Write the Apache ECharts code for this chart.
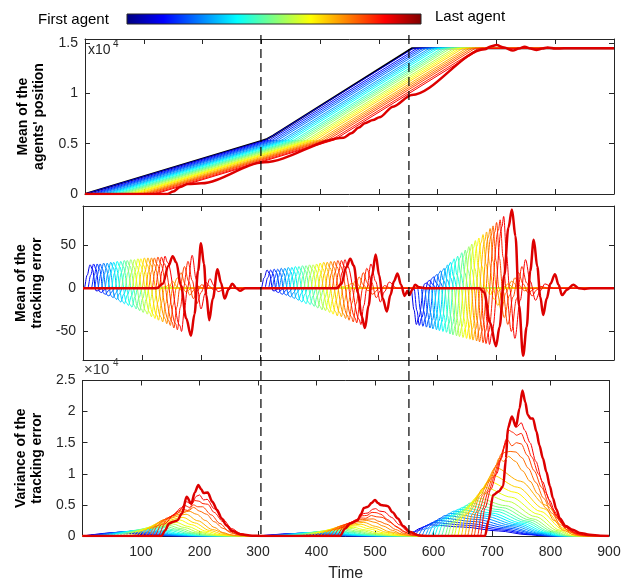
<!DOCTYPE html>
<html><head><meta charset="utf-8">
<script src="https://cdn.jsdelivr.net/npm/echarts@6/dist/echarts.min.js"></script>
<style>html,body{margin:0;padding:0;background:#fff}#c{width:623px;height:584px}</style>
</head><body><div id="c"></div>
<script>
// ---------------- data ----------------
const timeTicks = [0,100,200,300,400,500,600,700,800,900];
const positionTicks = [0,5000,10000,15000];
const errorTicks = [-50,0,50];
const varianceTicks = [0,5000,10000,15000,20000,25000];
const switchTimes = [305, 558];

// Top panel: reference (leader) position
const positionReference = [[0,0],[300,5280],[310,5470],[320,5800],[556,14480],[900,14480]];
// Top panel: thin agents, first -> before last
const positionAgents = [
 [[0,0],[3,0],[308,5370],[559,14480],[900,14480]],
 [[0,0],[9,0],[314,5370],[565,14480],[900,14480]],
 [[0,0],[14,0],[319,5370],[570,14480],[900,14480]],
 [[0,0],[19,0],[324,5370],[575,14480],[900,14480]],
 [[0,0],[24,0],[329,5370],[580,14480],[900,14480]],
 [[0,0],[30,0],[335,5370],[586,14480],[900,14480]],
 [[0,0],[35,0],[340,5370],[591,14480],[900,14480]],
 [[0,0],[40,0],[345,5370],[596,14480],[900,14480]],
 [[0,0],[45,0],[350,5370],[601,14480],[900,14480]],
 [[0,0],[51,0],[356,5370],[607,14480],[900,14480]],
 [[0,0],[56,0],[361,5370],[612,14480],[900,14480]],
 [[0,0],[61,0],[366,5370],[617,14480],[900,14480]],
 [[0,0],[66,0],[371,5370],[622,14480],[900,14480]],
 [[0,0],[72,0],[377,5370],[628,14480],[900,14480]],
 [[0,0],[77,0],[382,5370],[633,14480],[900,14480]],
 [[0,0],[82,0],[387,5370],[638,14480],[900,14480]],
 [[0,0],[87,0],[392,5370],[643,14480],[900,14480]],
 [[0,0],[93,0],[398,5370],[649,14480],[900,14480]],
 [[0,0],[98,0],[403,5370],[654,14480],[900,14480]],
 [[0,0],[103,0],[408,5370],[659,14480],[900,14480]],
 [[0,0],[108,0],[413,5370],[664,14480],[900,14480]],
 [[0,0],[114,0],[419,5370],[670,14480],[900,14480]],
 [[0,0],[119,0],[424,5370],[675,14480],[900,14480]]
];
// Top panel: last agent (thick)
const positionLast = [[0,0],[140,0],[150,250],[162,700],[175,990],[198,1060],[305,3150],[440,5600],[453,6030],[466,6600],[476,7030],[490,7350],[501,7620],[524,8680],[556,9840],[680,14380],[690,14650],[700,14800],[713,14550],[728,14250],[738,14450],[748,14640],[758,14450],[768,14310],[778,14450],[787,14550],[800,14450],[815,14480],[900,14480]];

// Middle panel: mean tracking error, thin agents
const errorAgents = [
 [[0,0],[2,0],[7,15],[12,27],[16,22],[22,-3],[25,-3],[30,-1],[35,0],[302,0],[307,12],[312,21],[316,17],[322,-3],[325,-3],[330,-1],[335,0],[556,0],[561,-25],[565,-42],[569,-34],[579,5],[582,6],[587,3],[593,0],[900,0]],
 [[0,0],[8,0],[13,15],[18,28],[22,22],[28,-4],[31,-5],[36,-2],[41,0],[308,0],[313,12],[318,21],[322,17],[328,-4],[331,-5],[336,-2],[341,0],[561,0],[566,-26],[570,-43],[574,-34],[585,8],[588,9],[593,4],[599,0],[900,0]],
 [[0,0],[14,0],[19,15],[24,28],[28,22],[35,-6],[38,-7],[43,-3],[48,0],[314,0],[319,12],[324,22],[328,18],[335,-6],[338,-7],[343,-3],[348,0],[567,0],[572,-26],[576,-44],[580,-35],[591,11],[594,13],[599,6],[605,0],[900,0]],
 [[0,0],[19,0],[24,15],[29,28],[33,22],[41,-8],[44,-9],[49,-4],[54,0],[320,0],[325,12],[330,22],[334,18],[342,-7],[345,-8],[350,-4],[355,0],[573,0],[578,-27],[582,-45],[586,-36],[597,14],[600,16],[605,7],[611,0],[900,0]],
 [[0,0],[25,0],[30,16],[35,29],[39,23],[48,-9],[51,-11],[56,-5],[61,0],[326,0],[331,13],[336,23],[340,18],[349,-9],[352,-10],[357,-5],[362,0],[579,0],[584,-28],[588,-46],[592,-37],[603,17],[606,20],[611,9],[617,0],[900,0]],
 [[0,0],[31,0],[36,16],[41,29],[45,23],[54,-11],[57,-13],[62,-6],[67,0],[332,0],[337,13],[342,23],[346,18],[355,-10],[358,-12],[363,-5],[368,0],[584,0],[589,-28],[593,-47],[597,-38],[609,20],[612,23],[617,10],[623,0],[900,0]],
 [[0,0],[37,0],[42,17],[47,30],[51,24],[61,-14],[64,-16],[69,-7],[74,0],[338,0],[343,13],[348,24],[352,19],[362,-12],[365,-14],[370,-6],[375,0],[590,0],[595,-29],[599,-48],[603,-38],[615,23],[618,27],[623,12],[629,0],[900,0]],
 [[0,0],[42,0],[47,17],[52,30],[56,24],[67,-15],[70,-18],[75,-8],[80,0],[344,0],[349,13],[354,24],[358,19],[368,-14],[371,-16],[376,-7],[381,0],[595,0],[600,-29],[604,-49],[608,-39],[620,26],[623,30],[628,14],[634,0],[900,0]],
 [[0,0],[48,0],[53,17],[58,31],[62,25],[74,-17],[77,-20],[82,-9],[87,0],[350,0],[355,14],[360,25],[364,20],[375,-15],[378,-18],[383,-8],[388,0],[601,0],[606,-30],[610,-50],[614,-40],[626,29],[629,34],[634,15],[640,0],[900,0]],
 [[0,0],[54,0],[59,17],[64,31],[68,25],[80,-19],[83,-22],[88,-10],[93,0],[356,0],[361,14],[366,25],[370,20],[382,-16],[385,-19],[390,-9],[395,0],[607,0],[612,-31],[616,-51],[620,-41],[632,31],[635,37],[640,17],[646,0],[900,0]],
 [[0,0],[60,0],[65,18],[70,32],[74,26],[87,-20],[90,-24],[95,-11],[100,0],[362,0],[367,14],[372,26],[376,21],[389,-18],[392,-21],[397,-9],[402,0],[613,0],[618,-32],[622,-53],[626,-42],[639,35],[642,41],[647,18],[653,0],[900,0]],
 [[0,0],[65,0],[70,18],[75,32],[79,26],[93,-22],[96,-26],[101,-12],[106,0],[368,0],[373,14],[378,26],[382,21],[395,-20],[398,-23],[403,-10],[408,0],[618,0],[623,-32],[627,-54],[631,-43],[645,37],[648,44],[653,20],[659,0],[900,0]],
 [[0,0],[71,0],[76,18],[81,33],[85,26],[99,-24],[102,-28],[107,-13],[112,0],[374,0],[379,15],[384,27],[388,22],[402,-21],[405,-25],[410,-11],[415,0],[624,0],[629,-33],[633,-55],[637,-44],[651,41],[654,48],[659,22],[665,0],[900,0]],
 [[0,0],[77,0],[82,18],[87,33],[91,26],[106,-26],[109,-30],[114,-14],[119,0],[380,0],[385,15],[390,27],[394,22],[408,-22],[411,-26],[416,-12],[421,0],[629,0],[634,-34],[638,-56],[642,-45],[656,43],[659,51],[664,23],[670,0],[900,0]],
 [[0,0],[83,0],[88,19],[93,34],[97,27],[113,-28],[116,-33],[121,-15],[126,0],[386,0],[391,15],[396,28],[400,22],[415,-24],[418,-28],[423,-13],[428,0],[635,0],[640,-34],[644,-57],[648,-46],[662,47],[665,55],[670,25],[676,0],[900,0]],
 [[0,0],[88,0],[93,19],[98,34],[102,27],[119,-30],[122,-35],[127,-16],[132,0],[139,2],[148,0],[392,0],[397,16],[402,29],[406,23],[421,-26],[424,-30],[429,-14],[434,0],[440,2],[450,0],[641,0],[646,-35],[650,-58],[654,-46],[668,49],[671,58],[676,26],[682,0],[690,-7],[702,0],[900,0]],
 [[0,0],[94,0],[99,19],[104,35],[108,28],[125,-31],[128,-37],[133,-17],[138,0],[145,4],[155,0],[398,0],[403,16],[408,30],[412,24],[428,-27],[431,-32],[436,-14],[441,0],[447,3],[458,0],[647,0],[652,-35],[656,-59],[660,-47],[675,53],[678,62],[683,28],[689,0],[697,-13],[705,-3],[713,2],[722,0],[900,0]],
 [[0,0],[100,0],[105,19],[110,35],[114,28],[132,-33],[135,-39],[140,-18],[145,0],[152,8],[159,2],[166,-2],[176,0],[404,0],[409,17],[414,30],[418,24],[435,-28],[438,-33],[443,-15],[448,0],[455,6],[467,0],[652,0],[657,-36],[661,-60],[665,-48],[681,55],[684,65],[689,29],[695,0],[703,-20],[711,-4],[720,5],[731,0],[900,0]],
 [[0,0],[106,0],[111,19],[116,35],[120,28],[139,-35],[142,-41],[147,-20],[152,0],[160,12],[167,3],[174,-4],[185,0],[410,0],[415,17],[420,31],[424,25],[442,-30],[445,-35],[450,-16],[455,0],[462,9],[469,2],[476,0],[658,0],[663,-37],[667,-61],[671,-49],[687,59],[690,69],[695,31],[701,0],[709,-26],[717,-5],[726,8],[740,0],[900,0]],
 [[0,0],[111,0],[116,19],[121,35],[125,28],[145,-37],[148,-43],[153,-19],[158,0],[166,18],[173,5],[181,-8],[188,-2],[195,2],[205,0],[416,0],[421,17],[426,31],[430,25],[448,-31],[451,-37],[456,-17],[461,0],[468,13],[475,4],[483,-3],[495,0],[663,0],[668,-37],[672,-62],[676,-50],[692,61],[695,72],[700,32],[705,0],[714,-34],[723,-8],[732,12],[740,3],[748,-3],[760,0],[900,0]],
 [[0,0],[117,0],[122,20],[127,36],[131,29],[151,-39],[154,-46],[159,-22],[164,0],[172,25],[179,8],[187,-12],[194,-3],[201,4],[212,0],[422,0],[427,18],[432,32],[436,26],[455,-33],[458,-39],[463,-18],[468,0],[475,18],[482,6],[490,-7],[503,0],[669,0],[674,-38],[678,-63],[682,-50],[698,65],[701,76],[706,34],[711,0],[720,-42],[729,-10],[738,18],[746,5],[754,-5],[768,0],[900,0]],
 [[0,0],[123,0],[128,20],[133,36],[137,29],[157,-41],[160,-48],[165,-22],[170,0],[178,31],[185,9],[193,-18],[200,-5],[208,7],[215,2],[221,-2],[232,0],[428,0],[433,18],[438,32],[442,26],[461,-34],[464,-40],[469,-18],[474,0],[481,23],[489,7],[497,-11],[504,-3],[511,3],[522,0],[674,0],[679,-38],[683,-64],[687,-51],[704,67],[707,79],[712,36],[717,0],[726,-50],[735,-12],[744,25],[752,6],[761,-9],[769,-2],[776,2],[788,0],[900,0]],
 [[0,0],[129,0],[134,20],[139,37],[143,30],[164,-43],[167,-50],[172,-24],[177,0],[185,38],[192,10],[200,-24],[207,-6],[215,11],[222,3],[229,-4],[242,0],[434,0],[439,18],[444,33],[448,26],[468,-36],[471,-42],[476,-20],[481,0],[488,28],[496,8],[504,-16],[511,-4],[519,7],[532,0],[680,0],[685,-39],[689,-65],[693,-52],[710,71],[713,83],[718,37],[723,0],[732,-58],[741,-14],[750,33],[758,8],[767,-14],[775,-3],[783,5],[797,0],[900,0]]
];
const errorLast = [[0,0],[125,0],[135,5],[145,26],[152,37],[158,30],[166,3],[175,-35],[183,-55],[189,-30],[195,20],[200,52],[205,28],[209,-8],[214,-37],[220,-12],[228,22],[234,6],[240,-12],[247,-1],[253,5],[260,0],[266,-3],[275,0],[430,0],[438,5],[446,24],[453,34],[459,26],[466,-5],[472,-32],[478,-46],[484,-20],[490,15],[496,39],[502,15],[508,-12],[515,-27],[521,-8],[527,8],[533,17],[539,4],[545,-9],[550,-3],[553,-8],[558,-2],[563,4],[570,1],[580,0],[672,0],[680,-5],[690,-40],[700,-67],[706,-45],[714,15],[721,70],[727,91],[733,60],[739,-20],[746,-78],[752,-45],[758,20],[764,56],[770,25],[775,-10],[780,-31],[786,-12],[792,5],[800,16],[806,4],[812,-8],[820,-2],[831,4],[840,0],[850,-1],[860,0],[900,0]];

// Bottom panel: variance of tracking error, thin agents
const varianceAgents = [
 [[0,0],[2,0],[14,210],[42,450],[60,600],[80,420],[105,180],[130,50],[150,0],[302,0],[314,140],[342,300],[360,400],[380,280],[405,120],[430,32],[450,0],[556,0],[564,630],[578,1260],[592,1800],[651,1440],[711,810],[760,216],[790,0],[900,0]],
 [[0,0],[8,0],[20,228],[48,488],[68,650],[88,455],[113,195],[138,52],[158,0],[308,0],[320,151],[348,323],[368,430],[388,301],[413,129],[438,34],[458,0],[562,0],[570,753],[584,1505],[599,2150],[658,1720],[716,968],[765,258],[794,0],[900,0]],
 [[0,0],[14,0],[26,245],[54,525],[76,700],[96,490],[121,210],[146,56],[166,0],[314,0],[326,161],[354,345],[376,460],[396,322],[421,138],[446,37],[466,0],[567,0],[575,875],[590,1750],[606,2500],[663,2000],[721,1125],[768,300],[797,0],[900,0]],
 [[0,0],[20,0],[32,266],[60,570],[84,760],[104,532],[129,228],[154,61],[174,0],[320,0],[332,175],[360,375],[385,500],[405,350],[430,150],[455,40],[475,0],[573,0],[581,1015],[597,2030],[613,2900],[669,2320],[726,1305],[773,348],[801,0],[900,0]],
 [[0,0],[25,0],[37,287],[65,615],[92,820],[112,574],[137,246],[162,66],[182,0],[326,0],[338,189],[366,405],[393,540],[413,378],[438,162],[463,43],[483,0],[579,0],[587,1155],[604,2310],[620,3300],[675,2640],[730,1485],[776,396],[804,0],[900,0]],
 [[0,0],[31,0],[43,315],[71,675],[100,900],[120,630],[145,270],[170,72],[190,0],[332,0],[344,207],[372,443],[401,590],[421,413],[446,177],[471,47],[491,0],[585,0],[593,1278],[611,2555],[628,3650],[682,2920],[736,1643],[781,438],[808,0],[900,0]],
 [[0,0],[37,0],[49,343],[77,735],[108,980],[128,686],[153,294],[178,78],[198,0],[338,0],[350,224],[378,480],[409,640],[429,448],[454,192],[479,51],[499,0],[590,0],[598,1400],[617,2800],[635,4000],[688,3200],[741,1800],[785,480],[811,0],[900,0]],
 [[0,0],[43,0],[55,371],[83,795],[115,1060],[135,742],[160,318],[185,85],[205,0],[344,0],[356,243],[384,521],[417,695],[437,487],[462,209],[487,56],[507,0],[596,0],[604,1505],[624,3010],[643,4300],[695,3440],[746,1935],[789,516],[815,0],[900,0]],
 [[0,0],[48,0],[60,403],[88,863],[122,1150],[142,805],[167,345],[192,92],[212,0],[350,0],[362,263],[390,563],[424,750],[444,525],[469,225],[494,60],[514,0],[601,0],[609,1610],[630,3220],[650,4600],[700,3680],[751,2070],[793,552],[818,0],[900,0]],
 [[0,0],[54,0],[66,448],[94,960],[129,1280],[149,896],[174,384],[199,102],[219,0],[356,0],[368,289],[396,619],[431,825],[451,578],[476,248],[501,66],[521,0],[607,0],[615,1733],[637,3465],[657,4950],[707,3960],[756,2228],[797,594],[822,0],[900,0]],
 [[0,0],[60,0],[72,490],[100,1050],[136,1400],[156,980],[181,420],[206,112],[226,0],[362,0],[374,315],[402,675],[438,900],[458,630],[483,270],[508,72],[528,0],[613,0],[621,1855],[643,3710],[663,5300],[712,4240],[760,2385],[801,636],[825,0],[900,0]],
 [[0,0],[66,0],[78,543],[106,1163],[142,1550],[162,1085],[187,465],[212,124],[232,0],[368,0],[380,350],[408,750],[445,1000],[465,700],[490,300],[515,80],[535,0],[619,0],[627,1995],[650,3990],[670,5700],[718,4560],[765,2565],[805,684],[829,0],[900,0]],
 [[0,0],[71,0],[83,595],[111,1275],[148,1700],[168,1190],[193,510],[218,136],[238,0],[374,0],[386,385],[414,825],[451,1100],[471,770],[496,330],[521,88],[541,0],[624,0],[632,2135],[655,4270],[676,6100],[723,4880],[770,2745],[809,732],[832,0],[900,0]],
 [[0,0],[77,0],[89,683],[117,1463],[154,1950],[174,1365],[199,585],[224,156],[244,0],[380,0],[392,438],[420,938],[457,1250],[477,875],[502,375],[527,100],[547,0],[630,0],[638,2433],[661,4865],[682,6950],[728,5560],[774,3128],[813,834],[836,0],[900,0]],
 [[0,0],[83,0],[95,770],[123,1650],[160,2200],[180,1540],[205,660],[230,176],[250,0],[386,0],[398,490],[426,1050],[463,1400],[483,980],[508,420],[533,112],[553,0],[635,0],[643,2730],[667,5460],[688,7800],[733,6240],[779,3510],[816,936],[839,0],[900,0]],
 [[0,0],[89,0],[101,910],[129,1950],[166,2600],[186,1820],[211,780],[236,208],[256,0],[392,0],[404,578],[432,1238],[470,1650],[490,1155],[515,495],[540,132],[560,0],[641,0],[649,3080],[673,6160],[694,8800],[739,7040],[783,3960],[821,1056],[843,0],[900,0]],
 [[0,0],[94,0],[106,1050],[134,2250],[172,3000],[192,2100],[217,900],[242,240],[262,0],[398,0],[410,665],[438,1425],[476,1900],[496,1330],[521,570],[546,152],[566,0],[647,0],[655,3430],[679,6860],[700,9800],[744,7840],[788,4410],[824,1176],[846,0],[900,0]],
 [[0,0],[100,0],[112,1225],[140,2625],[177,3500],[197,2450],[222,1050],[247,280],[267,0],[404,0],[416,770],[444,1650],[481,2200],[501,1540],[526,660],[551,176],[571,0],[653,0],[661,3850],[685,7700],[706,11000],[749,8800],[792,4950],[828,1320],[850,0],[900,0]],
 [[0,0],[106,0],[118,1300],[135,2400],[150,2900],[165,3500],[182,4000],[195,3500],[210,2500],[225,1400],[240,550],[255,150],[270,0],[410,0],[422,850],[440,1550],[455,1900],[470,2300],[486,2500],[500,2200],[514,1600],[530,900],[545,350],[560,80],[575,0],[658,0],[666,3500],[680,6500],[695,9000],[705,11000],[712,12500],[720,12000],[728,12800],[740,12000],[752,10500],[765,8800],[778,6800],[792,4500],[806,2500],[822,900],[840,200],[853,0],[900,0]],
 [[0,0],[112,0],[124,1500],[140,2650],[155,3250],[168,3900],[181,4050],[190,4600],[200,4000],[212,3500],[225,2300],[240,1250],[255,450],[270,120],[282,0],[416,0],[428,1000],[445,1750],[460,2150],[473,2600],[485,2700],[497,2750],[507,2350],[520,1900],[535,1050],[550,420],[565,100],[580,0],[664,0],[672,3700],[685,6700],[698,9200],[708,11500],[716,13200],[724,13500],[731,13600],[741,13500],[751,12600],[762,10900],[775,8600],[788,6100],[802,3700],[817,1800],[834,600],[850,120],[857,0],[900,0]],
 [[0,0],[117,0],[129,1700],[145,2900],[160,3600],[172,4300],[180,4100],[190,5000],[197,4700],[205,4700],[220,3400],[235,2000],[250,800],[265,250],[280,0],[422,0],[434,1100],[450,1900],[465,2400],[476,2900],[484,2850],[494,3300],[502,3100],[512,3000],[526,2200],[540,1300],[555,500],[570,120],[585,0],[669,0],[677,4000],[690,7000],[702,9500],[712,12000],[720,14000],[726,15500],[734,14500],[742,15000],[750,14800],[760,13000],[772,10500],[785,7800],[798,5000],[812,2800],[828,1000],[845,250],[860,0],[900,0]],
 [[0,0],[123,0],[135,1850],[150,3100],[164,4000],[175,4900],[183,4600],[192,5700],[199,5600],[206,5200],[214,5100],[225,3800],[240,2300],[255,1000],[270,320],[285,60],[292,0],[428,0],[440,1250],[455,2050],[468,2600],[478,3250],[486,3300],[495,3800],[502,3750],[510,3500],[522,2600],[535,1600],[549,700],[563,170],[578,30],[590,0],[675,0],[683,4200],[694,7200],[705,9700],[714,12200],[722,14700],[729,17000],[735,16700],[742,16200],[750,16500],[758,15000],[768,12700],[780,9900],[792,6900],[804,4300],[818,2200],[835,800],[852,200],[864,0],[900,0]],
 [[0,0],[129,0],[141,2000],[155,3300],[168,4500],[178,5500],[186,5100],[195,6400],[200,6600],[207,5800],[213,5900],[225,4400],[240,2700],[255,1200],[270,400],[285,80],[295,0],[434,0],[446,1400],[460,2200],[472,2800],[480,3600],[488,3700],[496,4300],[501,4400],[508,4000],[516,3900],[528,3000],[542,1800],[556,750],[570,200],[585,30],[595,0],[680,0],[688,4500],[698,7500],[708,10000],[716,12500],[724,15500],[731,18500],[736,19000],[742,17500],[750,18200],[756,17000],[765,15000],[775,12000],[786,8800],[798,5800],[810,3300],[825,1400],[845,400],[867,0],[900,0]]
];
const varianceLast = [[0,0],[135,0],[141,900],[148,2000],[155,2300],[162,2500],[170,3600],[178,6300],[186,5200],[192,7000],[198,8200],[203,7500],[207,6900],[214,7000],[222,5500],[230,4200],[238,2800],[246,1700],[256,800],[270,300],[290,50],[305,0],[440,0],[449,1200],[458,2000],[470,2500],[476,3500],[481,4500],[488,4700],[494,5300],[500,5800],[505,5300],[510,5000],[516,4900],[522,4800],[530,3800],[539,2800],[548,1600],[559,700],[575,100],[590,0],[688,0],[694,2500],[702,6600],[712,7200],[719,8000],[724,12500],[727,17300],[734,19200],[741,17600],[747,20500],[752,23400],[757,21500],[761,19500],[766,18900],[770,18900],[776,16800],[781,14600],[787,12500],[793,10300],[799,8000],[804,6100],[810,4300],[816,2800],[826,1600],[838,1000],[850,500],[867,200],[885,50],[900,0]];

// ---------------- chart ----------------
const FONT = "'Liberation Sans', Arial, Helvetica, sans-serif";
const AX = '#262626';
function jet(v){
  const c = x => Math.max(0, Math.min(1, x));
  const r = c(1.5-Math.abs(4*v-3)), g = c(1.5-Math.abs(4*v-2)), b = c(1.5-Math.abs(4*v-1));
  return 'rgb('+Math.round(r*255)+','+Math.round(g*255)+','+Math.round(b*255)+')';
}
const nThin = positionAgents.length;
const thinColor = k => jet(0.10 + k*(0.78/(nThin-1)));
const LAST = '#dd0000';

const grids = [
  {left:85, right:9, top:39, height:155},
  {left:83, right:9, top:206, height:154},
  {left:82.5, right:14, top:380.5, height:155.5}
].map(g => Object.assign({show:false, outerBoundsMode:'none', containLabel:false}, g));

const lineStyle = {color:AX, width:1};
function xAx(i, pos){
  const isLab = (i===2 && pos==='bottom');
  return {
    gridIndex:i, type:'value', min:timeTicks[0], max:timeTicks[timeTicks.length-1], interval:100, position:pos,
    axisLine:{show:true, onZero:false, lineStyle},
    axisTick:{show:true, inside:true, length:5, lineStyle},
    axisLabel:{show:isLab, margin:9, color:AX, fontSize:14, fontFamily:FONT,
      formatter: v => (v===0 ? '' : String(v))},
    splitLine:{show:false},
    name: isLab ? 'Time' : '', nameLocation:'middle', nameGap:30,
    nameTextStyle:{fontSize:16, color:AX, fontFamily:FONT}
  };
}
const yCfg = [
  {min:0, max:15400, ticks:positionTicks, fmt: v => String(v/10000), name:'Mean of the\nagents\' position', gap:38},
  {min:-83, max:95, ticks:errorTicks, fmt: v => String(v), name:'Mean of the\ntracking error', gap:36},
  {min:0, max:25000, ticks:varianceTicks, fmt: v => String(v/10000), name:'Variance of the\ntracking error', gap:35.5}
];
function yAx(i, pos){
  const c = yCfg[i];
  const left = pos==='left';
  return {
    gridIndex:i, type:'value', min:c.min, max:c.max, position:pos,
    axisLine:{show:true, onZero:false, lineStyle},
    axisTick:{show:true, inside:true, length:5, lineStyle, customValues:c.ticks},
    axisLabel:{show:left, margin:7, color:AX, fontSize:14, fontFamily:FONT, customValues:c.ticks, formatter:c.fmt},
    splitLine:{show:false},
    name: left ? c.name : '', nameLocation:'middle', nameGap:c.gap, nameRotate:90,
    nameTextStyle:{fontSize:14, fontWeight:'bold', lineHeight:16, color:'#000', fontFamily:FONT}
  };
}

function ser(data, gi, color, width, smooth){
  return {type:'line', xAxisIndex:gi, yAxisIndex:gi, data, showSymbol:false, symbol:'none',
    smooth: smooth, smoothMonotone:'x', silent:true, emphasis:{disabled:true},
    lineStyle:{color, width}, clip:true, animation:false};
}

const series = [];
series.push(ser(positionReference, 0, '#000', 2, false));
positionAgents.forEach((d,k) => series.push(ser(d, 0, thinColor(k), 1, false)));
series.push(ser(positionLast, 0, LAST, 2.5, 0.3));
errorAgents.forEach((d,k) => series.push(ser(d, 1, thinColor(k), 1, 0.35)));
series.push(ser(errorLast, 1, LAST, 2.5, 0.35));
varianceAgents.forEach((d,k) => series.push(ser(d, 2, thinColor(k), 1, 0.3)));
series.push(ser(varianceLast, 2, LAST, 2.5, 0.3));

const chart = echarts.init(document.getElementById('c'), null, {renderer:'canvas'});
chart.setOption({
  animation:false,
  backgroundColor:'#fff',
  textStyle:{fontFamily:FONT},
  grid: grids,
  xAxis: [xAx(0,'bottom'), xAx(1,'bottom'), xAx(2,'bottom'), xAx(0,'top'), xAx(1,'top'), xAx(2,'top')],
  yAxis: [yAx(0,'left'), yAx(1,'left'), yAx(2,'left'), yAx(0,'right'), yAx(1,'right'), yAx(2,'right')],
  series
});

const dashX = switchTimes.map(t => chart.convertToPixel({xAxisIndex:2}, t));
const jetStops = [
  {offset:0, color:'#00007f'}, {offset:0.125, color:'#0000ff'}, {offset:0.375, color:'#00ffff'},
  {offset:0.625, color:'#ffff00'}, {offset:0.875, color:'#ff0000'}, {offset:1, color:'#7f0000'}
];
const graphics = [
  {type:'rect', shape:{x:127, y:14, width:294, height:10}, z:100,
   style:{fill:new echarts.graphic.LinearGradient(0,0,1,0,jetStops), stroke:AX, lineWidth:1}},
  {type:'text', x:38, y:20, z:100, style:{text:'First agent', font:'15px '+FONT, fill:'#000', verticalAlign:'middle', align:'left'}},
  {type:'text', x:435, y:17, z:100, style:{text:'Last agent', font:'15px '+FONT, fill:'#000', verticalAlign:'middle', align:'left'}},
  {type:'text', x:88, y:43, z:100, style:{text:'x10', font:'14px '+FONT, fill:AX, verticalAlign:'top'}},
  {type:'text', x:113, y:39, z:100, style:{text:'4', font:'10px '+FONT, fill:AX, verticalAlign:'top'}},
  {type:'text', x:84, y:362, z:100, style:{text:'\u00d710', font:'15px '+FONT, fill:'#404040', verticalAlign:'top'}},
  {type:'text', x:113, y:358, z:100, style:{text:'4', font:'10px '+FONT, fill:'#404040', verticalAlign:'top'}}
];
dashX.forEach(px => graphics.push({type:'line', z:100,
  shape:{x1:px, y1:35, x2:px, y2:537}, style:{stroke:'#000', lineWidth:1.2, lineDash:[9,5]}}));
chart.setOption({graphic:{elements:graphics}});
</script></body></html>
